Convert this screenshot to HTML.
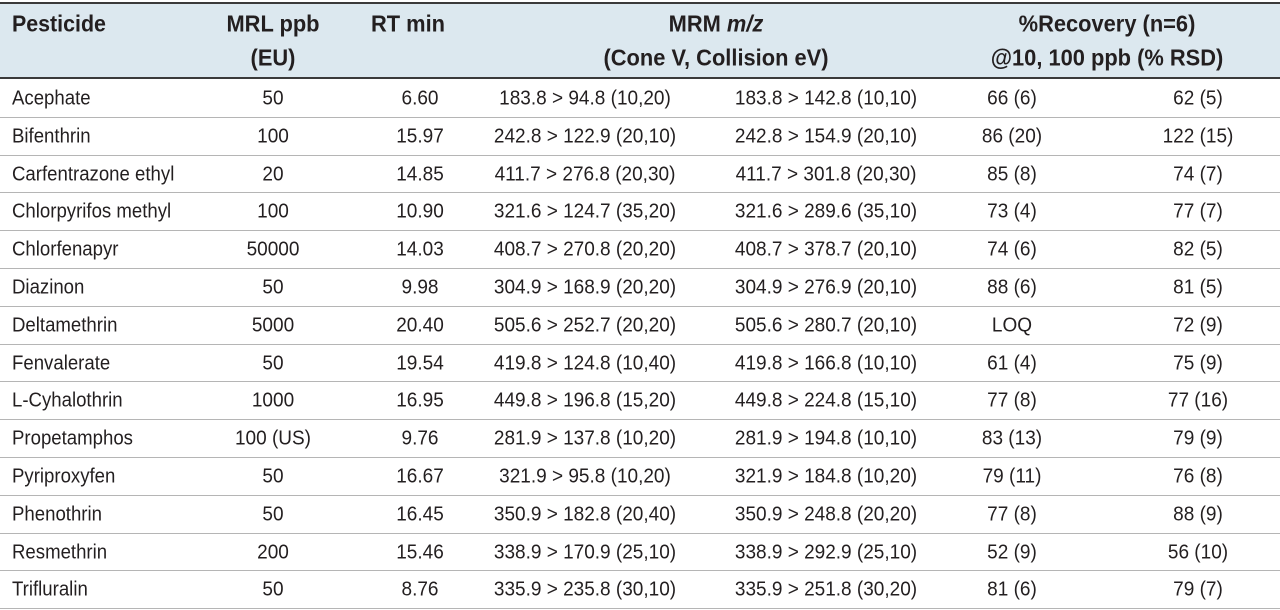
<!DOCTYPE html>
<html><head><meta charset="utf-8"><style>
html,body{margin:0;padding:0;background:#fff;}
#t{position:relative;width:1280px;height:610px;overflow:hidden;font-family:"Liberation Sans",sans-serif;color:#231f20;}
.hd{position:absolute;left:0;top:2px;width:1280px;height:77px;background:#dce8ef;border-top:2px solid #3a3a3a;border-bottom:2px solid #3a3a3a;box-sizing:border-box;}
.c{position:absolute;white-space:nowrap;transform:translate(-50%,-50%) scaleX(0.95);font-size:20px;}
.l{position:absolute;white-space:nowrap;transform:translate(0,-50%) scaleX(0.93);transform-origin:left center;font-size:20px;}
.h{font-weight:bold;font-size:23px;}
.sep{position:absolute;left:0;width:1280px;height:1px;background:#b5b5b5;}
</style></head><body>
<div id="t">
<div class="hd"></div>
<div class="l h" style="left:12px;top:24px">Pesticide</div>
<div class="c h" style="left:273px;top:24px">MRL ppb</div>
<div class="c h" style="left:273px;top:58px">(EU)</div>
<div class="c h" style="left:408px;top:24px">RT min</div>
<div class="c h" style="left:716px;top:24px">MRM <i>m/z</i></div>
<div class="c h" style="left:716px;top:58px">(Cone V, Collision eV)</div>
<div class="c h" style="left:1107px;top:24px">%Recovery (n=6)</div>
<div class="c h" style="left:1107px;top:58px">@10, 100 ppb (% RSD)</div>
<div id="rows"></div>
</div>
<script>
const names=["Acephate","Bifenthrin","Carfentrazone ethyl","Chlorpyrifos methyl","Chlorfenapyr","Diazinon","Deltamethrin","Fenvalerate","L-Cyhalothrin","Propetamphos","Pyriproxyfen","Phenothrin","Resmethrin","Trifluralin"];
const mrl=["50","100","20","100","50000","50","5000","50","1000","100 (US)","50","50","200","50"];
const rt=["6.60","15.97","14.85","10.90","14.03","9.98","20.40","19.54","16.95","9.76","16.67","16.45","15.46","8.76"];
const mrm1=["183.8 > 94.8 (10,20)","242.8 > 122.9 (20,10)","411.7 > 276.8 (20,30)","321.6 > 124.7 (35,20)","408.7 > 270.8 (20,20)","304.9 > 168.9 (20,20)","505.6 > 252.7 (20,20)","419.8 > 124.8 (10,40)","449.8 > 196.8 (15,20)","281.9 > 137.8 (10,20)","321.9 > 95.8 (10,20)","350.9 > 182.8 (20,40)","338.9 > 170.9 (25,10)","335.9 > 235.8 (30,10)"];
const mrm2=["183.8 > 142.8 (10,10)","242.8 > 154.9 (20,10)","411.7 > 301.8 (20,30)","321.6 > 289.6 (35,10)","408.7 > 378.7 (20,10)","304.9 > 276.9 (20,10)","505.6 > 280.7 (20,10)","419.8 > 166.8 (10,10)","449.8 > 224.8 (15,10)","281.9 > 194.8 (10,10)","321.9 > 184.8 (10,20)","350.9 > 248.8 (20,20)","338.9 > 292.9 (25,10)","335.9 > 251.8 (30,20)"];
const rec10=["66 (6)","86 (20)","85 (8)","73 (4)","74 (6)","88 (6)","LOQ","61 (4)","77 (8)","83 (13)","79 (11)","77 (8)","52 (9)","81 (6)"];
const rec100=["62 (5)","122 (15)","74 (7)","77 (7)","82 (5)","81 (5)","72 (9)","75 (9)","77 (16)","79 (9)","76 (8)","88 (9)","56 (10)","79 (7)"];
const R=document.getElementById('rows');
const top0=80,rh=37.8;
function cell(cls,x,y,txt,name){const d=document.createElement('div');d.className=cls;d.style.left=x+'px';d.style.top=y+'px';d.textContent=txt;


R.appendChild(d);}
names.forEach((n,i)=>{
 const y=top0+rh*i+rh/2;
 cell('l',12,y,n,'pesticide-name');
 cell('c',273,y,mrl[i],'mrl-value');
 cell('c',420,y,rt[i],'rt-value');
 cell('c',585,y,mrm1[i],'mrm-transition-1');
 cell('c',826,y,mrm2[i],'mrm-transition-2');
 cell('c',1012,y,rec10[i],'recovery-10ppb');
 cell('c',1198,y,rec100[i],'recovery-100ppb');
 const s=document.createElement('div');s.className='sep';s.style.top=(top0+rh*(i+1)-1)+'px';
 
 
 R.appendChild(s);
});
</script>
</body></html>
